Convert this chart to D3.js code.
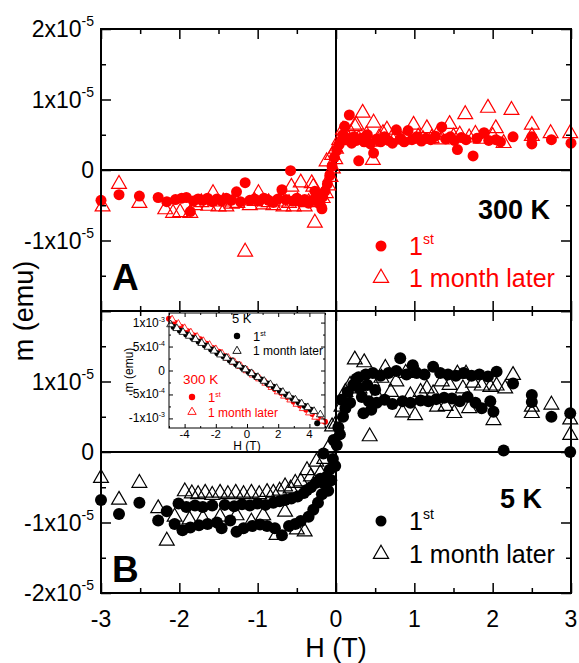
<!DOCTYPE html>
<html>
<head>
<meta charset="utf-8">
<script src="https://cdn.jsdelivr.net/npm/d3@7"></script>
<style>
  body { margin: 0; background: #fff; }
  svg { font-family: "Liberation Sans", Arial, sans-serif; }
</style>
</head>
<body>
<div id="chart"></div>
<script>
// ---- data: H in tesla, m in units of 1e-5 emu (main panels) ----
// panel A, 300 K, first measurement (filled red circles)
var a1st = [[-3.00,-0.43],[-2.77,-0.35],[-2.51,-0.37],[-2.27,-0.39],[-2.16,-0.45],[-2.05,-0.42],[-1.97,-0.40],
  [-1.91,-0.39],[-1.86,-0.59],[-1.82,-0.44],[-1.76,-0.41],[-1.70,-0.43],[-1.64,-0.40],[-1.58,-0.45],[-1.52,-0.41],
  [-1.46,-0.44],[-1.40,-0.40],[-1.34,-0.43],[-1.27,-0.31],[-1.22,-0.45],[-1.16,-0.18],[-1.10,-0.43],[-1.04,-0.41],
  [-0.98,-0.44],[-0.92,-0.40],[-0.86,-0.43],[-0.80,-0.46],[-0.74,-0.41],[-0.69,-0.28],[-0.64,-0.42],[-0.58,-0.01],
  [-0.55,-0.44],[-0.50,-0.40],[-0.45,-0.45],[-0.40,-0.42],[-0.35,-0.47],[-0.30,-0.43],[-0.27,-0.30],[-0.25,-0.40],
  [-0.21,-0.48],[-0.18,-0.55],[-0.17,-0.38],[-0.14,-0.30],[-0.11,-0.20],[-0.08,-0.08],[-0.05,0.05],[-0.02,0.18],
  [0.01,0.28],[0.04,0.36],[0.07,0.42],[0.09,0.50],[0.11,0.62],[0.14,0.45],[0.17,0.78],[0.20,0.38],[0.23,0.47],
  [0.26,0.42],[0.29,0.13],[0.32,0.45],[0.36,0.40],[0.40,0.50],[0.44,0.37],[0.48,0.24],[0.52,0.44],[0.57,0.40],
  [0.62,0.47],[0.67,0.42],[0.72,0.38],[0.77,0.57],[0.82,0.44],[0.87,0.40],[0.92,0.56],[0.97,0.43],[1.03,0.47],
  [1.09,0.41],[1.15,0.45],[1.21,0.43],[1.27,0.48],[1.35,0.61],[1.40,0.44],[1.46,0.47],[1.51,0.42],[1.55,0.29],
  [1.60,0.46],[1.66,0.43],[1.75,0.20],[1.80,0.45],[1.89,0.53],[1.95,0.42],[2.04,0.43],[2.10,0.40],[2.26,0.47],
  [2.50,0.47],[2.50,0.37],[2.75,0.43],[3.00,0.38]];

// panel A, 300 K, one month later (open red triangles)
var aLater = [[-2.98,-0.52],[-2.77,-0.20],[-2.51,-0.47],[-2.18,-0.56],[-2.08,-0.61],[-1.99,-0.60],[-1.86,-0.61],
  [-1.80,-0.50],[-1.72,-0.46],[-1.63,-0.51],[-1.57,-0.33],[-1.50,-0.52],[-1.44,-0.45],[-1.40,-0.52],[-1.33,-0.48],
  [-1.26,-0.47],[-1.16,-1.16],[-1.10,-0.50],[-1.04,-0.44],[-0.99,-0.33],[-0.93,-0.49],[-0.86,-0.46],[-0.80,-0.50],
  [-0.73,-0.45],[-0.67,-0.52],[-0.60,-0.47],[-0.57,-0.24],[-0.54,-0.52],[-0.49,-0.44],[-0.45,-0.18],[-0.40,-0.52],
  [-0.35,-0.46],[-0.31,-0.19],[-0.29,-0.24],[-0.27,-0.75],[-0.22,-0.45],[-0.17,-0.40],[-0.13,-0.33],[-0.12,0.12],
  [-0.10,-0.22],[-0.07,-0.10],[-0.05,0.21],[-0.04,0.02],[-0.01,0.15],[0.00,0.30],[0.04,0.42],[0.09,0.57],
  [0.14,0.48],[0.19,0.52],[0.24,0.62],[0.26,0.64],[0.29,0.44],[0.34,0.81],[0.39,0.50],[0.43,0.40],[0.47,0.14],
  [0.48,0.67],[0.55,0.46],[0.60,0.52],[0.65,0.57],[0.71,0.45],[0.78,0.50],[0.84,0.43],[0.90,0.48],[0.99,0.64],
  [1.05,0.47],[1.11,0.44],[1.16,0.59],[1.22,0.45],[1.29,0.50],[1.35,0.43],[1.45,0.65],[1.50,0.47],[1.58,0.50],
  [1.65,0.79],[1.70,0.46],[1.78,0.51],[1.85,0.44],[1.94,0.88],[2.00,0.48],[2.04,0.59],[2.14,0.38],[2.24,0.85],
  [2.50,0.64],[2.50,0.48],[2.74,0.52],[2.99,0.52]];

// panel B, 5 K, first measurement (filled black circles)
var b1st = [[-3.00,-0.68],[-2.77,-0.88],[-2.51,-0.72],[-2.27,-0.97],[-2.16,-0.84],[-2.06,-1.02],[-2.01,-0.73],
  [-1.96,-1.11],[-1.91,-0.78],[-1.86,-1.07],[-1.80,-0.76],[-1.75,-1.04],[-1.70,-0.78],[-1.64,-1.02],[-1.58,-0.76],
  [-1.52,-1.00],[-1.46,-1.08],[-1.42,-0.75],[-1.35,-0.97],[-1.30,-0.77],[-1.27,-1.13],[-1.20,-0.74],[-1.18,-1.08],
  [-1.10,-0.76],[-1.07,-1.05],[-1.00,-0.73],[-0.97,-1.03],[-0.90,-0.75],[-0.88,-1.05],[-0.80,-0.72],[-0.78,-1.08],
  [-0.72,-0.70],[-0.69,-1.18],[-0.65,-0.68],[-0.60,-1.05],[-0.57,-0.66],[-0.52,-1.02],[-0.49,-0.63],[-0.45,-0.98],
  [-0.41,-0.58],[-0.37,-0.54],[-0.35,-0.92],[-0.32,-0.50],[-0.29,-0.82],[-0.26,-0.44],[-0.23,-0.72],[-0.20,-0.38],
  [-0.18,-0.60],[-0.16,-0.02],[-0.15,-0.45],[-0.12,-0.35],[-0.10,-0.55],[-0.08,-0.25],[-0.06,-0.40],[-0.04,-0.10],
  [-0.03,0.17],[-0.01,-0.20],[0.01,0.10],[0.03,0.35],[0.05,0.25],[0.07,0.74],[0.09,0.50],[0.12,0.62],[0.15,0.85],
  [0.18,0.70],[0.22,0.95],[0.26,1.04],[0.29,1.06],[0.30,0.90],[0.33,0.78],[0.35,0.55],[0.38,1.10],[0.40,0.95],
  [0.42,0.72],[0.45,0.60],[0.47,1.12],[0.50,0.88],[0.52,0.70],[0.57,1.08],[0.62,0.74],[0.67,1.12],[0.72,0.68],
  [0.77,1.15],[0.82,1.33],[0.85,0.72],[0.90,1.10],[0.95,0.70],[0.98,1.23],[1.03,1.12],[1.08,0.73],[1.13,1.10],
  [1.18,0.72],[1.24,1.21],[1.28,0.75],[1.33,1.12],[1.38,0.77],[1.43,1.10],[1.48,0.76],[1.53,1.08],[1.58,0.72],
  [1.63,1.12],[1.68,0.78],[1.73,1.08],[1.78,0.70],[1.83,1.10],[1.86,0.62],[1.94,1.07],[1.97,0.72],[2.01,0.57],
  [2.05,1.14],[2.14,0.02],[2.26,0.97],[2.50,0.81],[2.50,0.71],[2.75,0.50],[2.99,0.55],[2.99,0.00]];

// panel B, 5 K, one month later (open black triangles)
var bLater = [[-3.00,-0.37],[-2.77,-0.68],[-2.51,-0.44],[-2.27,-0.80],[-2.16,-1.26],[-2.06,-0.92],[-1.93,-0.56],
  [-1.87,-0.96],[-1.84,-0.59],[-1.76,-0.60],[-1.70,-0.94],[-1.67,-0.58],[-1.58,-0.61],[-1.48,-0.92],[-1.48,-0.58],
  [-1.38,-0.60],[-1.27,-0.90],[-1.28,-0.58],[-1.18,-0.60],[-1.08,-0.99],[-1.08,-0.58],[-0.98,-0.60],[-0.93,-0.90],
  [-0.88,-0.57],[-0.80,-0.58],[-0.76,-1.18],[-0.72,-0.55],[-0.65,-0.85],[-0.65,-0.49],[-0.58,-0.52],[-0.52,-0.44],
  [-0.50,-1.10],[-0.45,-0.42],[-0.40,-1.13],[-0.37,-0.26],[-0.32,-0.35],[-0.25,-0.14],[-0.20,-0.30],[-0.15,-0.10],
  [-0.10,0.05],[-0.05,0.36],[0.00,0.40],[0.07,0.64],[0.12,0.85],[0.18,0.95],[0.24,1.31],[0.30,0.90],[0.36,1.27],
  [0.43,0.22],[0.46,1.00],[0.52,0.80],[0.58,1.05],[0.63,1.19],[0.70,0.85],[0.77,1.00],[0.85,0.56],[0.89,1.12],
  [0.95,0.80],[1.01,0.52],[1.01,1.17],[1.08,0.85],[1.16,0.90],[1.24,0.83],[1.29,0.64],[1.35,1.00],[1.40,0.65],
  [1.45,0.95],[1.51,0.55],[1.55,1.11],[1.62,0.90],[1.66,1.11],[1.70,0.62],[1.75,0.98],[1.86,0.94],[1.97,0.92],
  [2.01,0.45],[2.05,0.94],[2.16,0.90],[2.26,1.09],[2.50,0.64],[2.50,0.55],[2.75,0.67],[2.99,0.46],[2.99,0.24]];

// inset: H in tesla, m in units of 1e-3 emu
var in5later = [[-4.9,0.96],[-4.5,0.88],[-4.1,0.80],[-3.7,0.72],[-3.3,0.65],[-2.9,0.57],[-2.5,0.49],[-2.1,0.41],
  [-1.7,0.33],[-1.3,0.26],[-0.9,0.18],[-0.5,0.10],[-0.1,0.02],[0.3,-0.06],[0.7,-0.14],[1.1,-0.22],[1.5,-0.29],
  [1.9,-0.37],[2.3,-0.45],[2.7,-0.53],[3.1,-0.61],[3.5,-0.69],[3.9,-0.77],[4.3,-0.85],[4.7,-0.92]];
var in5first = [[-4.7,0.91],[-4.3,0.83],[-3.9,0.75],[-3.5,0.68],[-3.1,0.60],[-2.7,0.52],[-2.3,0.44],[-1.9,0.36],
  [-1.5,0.29],[-1.1,0.21],[-0.7,0.13],[-0.3,0.05],[0.1,-0.03],[0.5,-0.11],[0.9,-0.19],[1.3,-0.27],[1.7,-0.34],
  [2.1,-0.42],[2.5,-0.50],[2.9,-0.58],[3.3,-0.66],[3.7,-0.74],[4.1,-0.82],[4.5,-1.10]];
var in300first = [[-5.0,1.08],[-4.6,0.99],[-4.2,0.91],[-3.8,0.82],[-3.4,0.73],[-3.0,0.65],[-2.6,0.56],[-2.2,0.47],
  [-1.8,0.39],[-1.4,0.30],[-1.0,0.21],[-0.6,0.13],[-0.2,0.04],[0.2,-0.04],[0.6,-0.13],[1.0,-0.21],[1.4,-0.30],
  [1.8,-0.39],[2.2,-0.47],[2.6,-0.56],[3.0,-0.65],[3.4,-0.73],[3.8,-0.82],[4.2,-0.91],[4.6,-0.99],[5.0,-1.07]];
var in300later = [[-4.8,1.06],[-4.4,0.97],[-4.0,0.88],[-3.6,0.79],[-3.2,0.70],[-2.8,0.61],[-2.4,0.53],[-2.0,0.44],
  [-1.6,0.35],[-1.2,0.26],[-0.8,0.17],[-0.4,0.09],[0.0,0.00],[0.4,-0.09],[0.8,-0.17],[1.2,-0.26],[1.6,-0.35],
  [2.0,-0.44],[2.4,-0.53],[2.8,-0.61],[3.2,-0.70],[3.6,-0.79],[4.0,-0.88],[4.4,-0.97],[4.8,-1.05]];

var xTicks = [-3, -2, -1, 0, 1, 2, 3];
var aTickLabels = [2, 1, 0, -1];
var bTickLabels = [1, 0, -1, -2];
var inXTicks = [-4, -2, 0, 2, 4];
var inYTicks = [[1, "1x10", "-3"], [0.5, "5x10", "-4"], [0, "0", ""], [-0.5, "-5x10", "-4"], [-1, "-1x10", "-3"]];

// ---- svg setup ----
var svgWidth = 579;
var svgHeight = 663;

var svg = d3.select("#chart")
  .append("svg")
  .attr("width", svgWidth)
  .attr("height", svgHeight);

var x = d3.scaleLinear().domain([-3, 3]).range([101, 571]);
var yA = d3.scaleLinear().domain([-2, 2]).range([311, 29]);
var yB = d3.scaleLinear().domain([-2, 2]).range([593, 311]);

var tri = d3.symbol().type(d3.symbolTriangle);

// writes "2x10^-5" style labels with a superscript
function supLabel(sel, base, sup, supSize, supRaise) {
  sel.text(null);
  sel.append("tspan").text(base);
  if (sup) {
    sel.append("tspan").attr("font-size", supSize).attr("dy", -supRaise).text(sup);
  }
}

function drawPanel(yScale, labels, c1, cLater, color, r) {
  var top = yScale.range()[1], bottom = yScale.range()[0];
  var g = svg.append("g");

  // zero lines
  g.append("line").attr("x1", x(-3)).attr("x2", x(3)).attr("y1", yScale(0)).attr("y2", yScale(0))
    .attr("stroke", "#000").attr("stroke-width", 2);
  g.append("line").attr("x1", x(0)).attr("x2", x(0)).attr("y1", top).attr("y2", bottom)
    .attr("stroke", "#000").attr("stroke-width", 2);

  // data
  g.selectAll("circle.c1").data(c1).enter().append("circle")
    .attr("cx", d => x(d[0])).attr("cy", d => yScale(d[1])).attr("r", r)
    .attr("fill", color);
  g.selectAll("path.later").data(cLater).enter().append("path")
    .attr("d", tri.size(95))
    .attr("transform", d => `translate(${x(d[0])},${yScale(d[1])})`)
    .attr("fill", "none").attr("stroke", color).attr("stroke-width", 1.2);

  // axes, ticks pointing inward on all four sides
  var minorX = [-2.5, -1.5, -0.5, 0.5, 1.5, 2.5];
  var minorY = [-1.5, -0.5, 0.5, 1.5];
  var axes = [
    [d3.axisBottom(x).tickValues(xTicks), `translate(0,${bottom})`, 10],
    [d3.axisBottom(x).tickValues(minorX), `translate(0,${bottom})`, 5],
    [d3.axisTop(x).tickValues(xTicks), `translate(0,${top})`, 10],
    [d3.axisTop(x).tickValues(minorX), `translate(0,${top})`, 5],
    [d3.axisLeft(yScale).tickValues([-2, -1, 0, 1, 2]), `translate(${x(-3)},0)`, 10],
    [d3.axisLeft(yScale).tickValues(minorY), `translate(${x(-3)},0)`, 5],
    [d3.axisRight(yScale).tickValues([-2, -1, 0, 1, 2]), `translate(${x(3)},0)`, 10],
    [d3.axisRight(yScale).tickValues(minorY), `translate(${x(3)},0)`, 5]
  ];
  axes.forEach(function(a) {
    g.append("g").attr("transform", a[1])
      .call(a[0].tickSizeInner(-a[2]).tickSizeOuter(0).tickFormat(""))
      .call(s => s.select(".domain").remove())
      .selectAll("line").attr("stroke-width", 1.5);
  });

  // frame
  g.append("rect").attr("x", x(-3)).attr("y", top).attr("width", x(3) - x(-3)).attr("height", bottom - top)
    .attr("fill", "none").attr("stroke", "#000").attr("stroke-width", 2);

  // y tick labels
  g.selectAll("text.ylab").data(labels).enter().append("text")
    .attr("x", 94).attr("y", d => yScale(d) + 8)
    .attr("text-anchor", "end").attr("font-size", 23)
    .each(function(d) {
      if (d === 0) supLabel(d3.select(this), "0");
      else supLabel(d3.select(this), d + "x10", "-5", 14, 11);
    });
  return g;
}

drawPanel(yA, aTickLabels, a1st, aLater, "#ff0000", 5.5);
drawPanel(yB, bTickLabels, b1st, bLater, "#000000", 6);

// x tick labels
svg.selectAll("text.xlab").data(xTicks).enter().append("text")
  .attr("x", d => x(d)).attr("y", 627)
  .attr("text-anchor", "middle").attr("font-size", 23)
  .text(d => d);

// axis titles
svg.append("text").attr("x", x(0)).attr("y", 657).attr("text-anchor", "middle")
  .attr("font-size", 27).text("H (T)");
svg.append("text").attr("transform", "translate(33,311) rotate(-90)").attr("text-anchor", "middle")
  .attr("font-size", 27).text("m (emu)");

// panel letters
svg.append("text").attr("x", 112).attr("y", 290).attr("font-size", 37).attr("font-weight", "bold").text("A");
svg.append("text").attr("x", 112).attr("y", 582).attr("font-size", 37).attr("font-weight", "bold").text("B");

// legends
function legend(title, tx, ty, color, cy, ly) {
  svg.append("text").attr("x", tx).attr("y", ty).attr("text-anchor", "end")
    .attr("font-size", 27).attr("font-weight", "bold").text(title);
  svg.append("circle").attr("cx", 381).attr("cy", cy).attr("r", 5.5).attr("fill", color);
  var t1 = svg.append("text").attr("x", 409).attr("y", cy + 9).attr("font-size", 25).attr("fill", color);
  supLabel(t1, "1", "st", 14, 11);
  svg.append("path").attr("d", tri.size(100)).attr("transform", `translate(381,${ly})`)
    .attr("fill", "none").attr("stroke", color).attr("stroke-width", 1.2);
  svg.append("text").attr("x", 409).attr("y", ly + 9).attr("font-size", 25).attr("fill", color)
    .text("1 month later");
}
legend("300 K", 550, 219, "#ff0000", 246, 278);
legend("5 K", 542, 508, "#000000", 521, 554);

// ---- inset ----
var ix = d3.scaleLinear().domain([-5, 5]).range([169, 325]);
var iy = d3.scaleLinear().domain([-1.2, 1.2]).range([428, 313]);
var ig = svg.append("g");
ig.append("rect").attr("x", 169).attr("y", 313).attr("width", 156).attr("height", 115).attr("fill", "#fff");

ig.selectAll("circle.r1").data(in300first).enter().append("circle")
  .attr("cx", d => ix(d[0])).attr("cy", d => iy(d[1])).attr("r", 3).attr("fill", "#ff0000");
ig.selectAll("path.r2").data(in300later).enter().append("path")
  .attr("d", tri.size(26)).attr("transform", d => `translate(${ix(d[0])},${iy(d[1])})`)
  .attr("fill", "#fff").attr("stroke", "#ff0000").attr("stroke-width", 0.8);
ig.selectAll("circle.k1").data(in5first).enter().append("circle")
  .attr("cx", d => ix(d[0])).attr("cy", d => iy(d[1])).attr("r", 3).attr("fill", "#000");
ig.selectAll("path.k2").data(in5later).enter().append("path")
  .attr("d", tri.size(26)).attr("transform", d => `translate(${ix(d[0])},${iy(d[1])})`)
  .attr("fill", "#fff").attr("stroke", "#000").attr("stroke-width", 0.8);

var inAxes = [
  [d3.axisBottom(ix).tickValues(inXTicks), "translate(0,428)", 4],
  [d3.axisBottom(ix).tickValues([-5, -3, -1, 1, 3, 5]), "translate(0,428)", 2],
  [d3.axisTop(ix).tickValues(inXTicks), "translate(0,313)", 4],
  [d3.axisTop(ix).tickValues([-5, -3, -1, 1, 3, 5]), "translate(0,313)", 2],
  [d3.axisLeft(iy).tickValues([-1, -0.5, 0, 0.5, 1]), "translate(169,0)", 4],
  [d3.axisLeft(iy).tickValues([-0.75, -0.25, 0.25, 0.75]), "translate(169,0)", 2],
  [d3.axisRight(iy).tickValues([-1, -0.5, 0, 0.5, 1]), "translate(325,0)", 4],
  [d3.axisRight(iy).tickValues([-0.75, -0.25, 0.25, 0.75]), "translate(325,0)", 2]
];
inAxes.forEach(function(a) {
  ig.append("g").attr("transform", a[1])
    .call(a[0].tickSizeInner(-a[2]).tickSizeOuter(0).tickFormat(""))
    .call(s => s.select(".domain").remove())
    .selectAll("line").attr("stroke-width", 1);
});
ig.append("rect").attr("x", 169).attr("y", 313).attr("width", 156).attr("height", 115)
  .attr("fill", "none").attr("stroke", "#000").attr("stroke-width", 1);

ig.selectAll("text.ixl").data(inXTicks).enter().append("text")
  .attr("x", d => ix(d)).attr("y", 438).attr("text-anchor", "middle").attr("font-size", 11.5)
  .text(d => d);
ig.selectAll("text.iyl").data(inYTicks).enter().append("text")
  .attr("x", 165).attr("y", d => iy(d[0]) + 4).attr("text-anchor", "end").attr("font-size", 12)
  .each(function(d) { supLabel(d3.select(this), d[1], d[2], 7, 5); });
ig.append("text").attr("x", ix(0)).attr("y", 450).attr("text-anchor", "middle").attr("font-size", 12)
  .text("H (T)");
ig.append("text").attr("transform", "translate(133,370) rotate(-90)").attr("text-anchor", "middle")
  .attr("font-size", 12).text("m (emu)");

// inset legend
ig.append("text").attr("x", 232).attr("y", 323).attr("font-size", 13).text("5 K");
ig.append("circle").attr("cx", 237).attr("cy", 336).attr("r", 3.2).attr("fill", "#000");
supLabel(ig.append("text").attr("x", 253).attr("y", 341).attr("font-size", 13), "1", "st", 7, 5);
ig.append("path").attr("d", tri.size(30)).attr("transform", "translate(237,351)")
  .attr("fill", "none").attr("stroke", "#000").attr("stroke-width", 0.9);
ig.append("text").attr("x", 253).attr("y", 355).attr("font-size", 12).text("1 month later");

ig.append("text").attr("x", 183).attr("y", 384).attr("font-size", 13.5).attr("fill", "#ff0000").text("300 K");
ig.append("circle").attr("cx", 192).attr("cy", 397).attr("r", 3.2).attr("fill", "#ff0000");
supLabel(ig.append("text").attr("x", 208).attr("y", 402).attr("font-size", 13).attr("fill", "#ff0000"), "1", "st", 7, 5);
ig.append("path").attr("d", tri.size(30)).attr("transform", "translate(192,412)")
  .attr("fill", "none").attr("stroke", "#ff0000").attr("stroke-width", 0.9);
ig.append("text").attr("x", 208).attr("y", 417).attr("font-size", 12).attr("fill", "#ff0000").text("1 month later");
</script>
</body>
</html>
